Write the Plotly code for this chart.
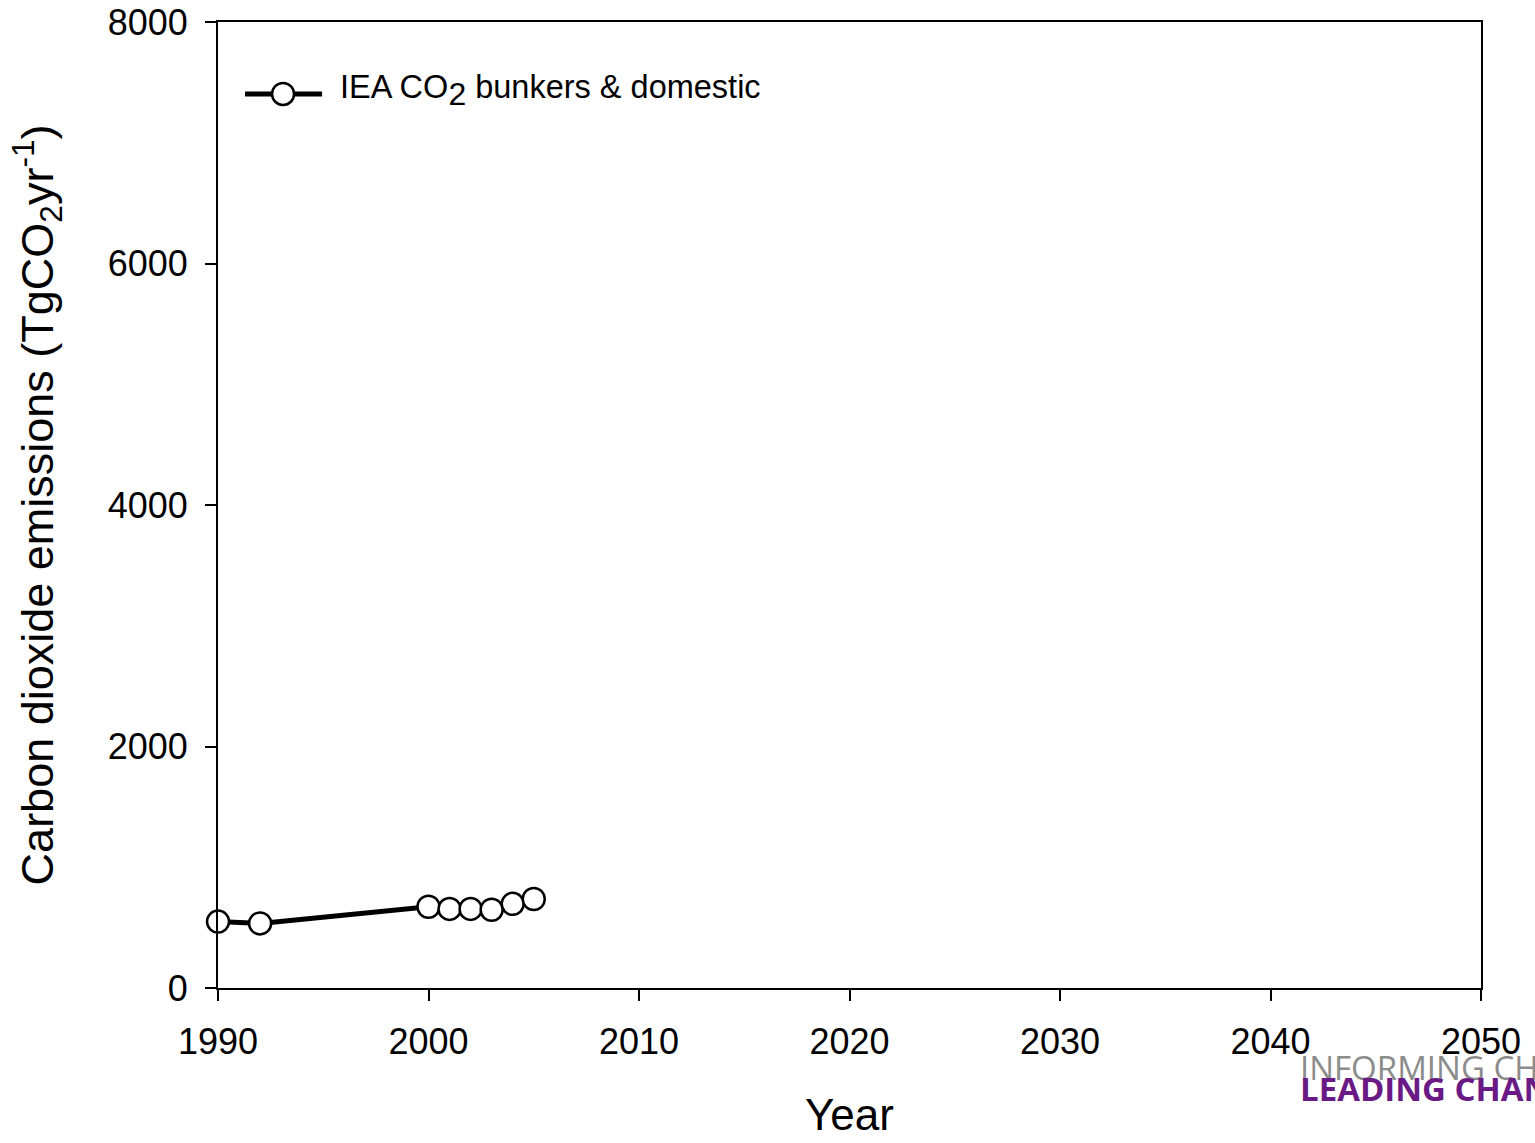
import plotly.graph_objects as go

# IEA CO2 emissions from bunkers & domestic (TgCO2 per year)
years = [1990, 1992, 2000, 2001, 2002, 2003, 2004, 2005]
emissions = [550, 535, 673, 655, 655, 648, 697, 737]

x_ticks = [1990, 2000, 2010, 2020, 2030, 2040, 2050]
y_ticks = [0, 2000, 4000, 6000, 8000]

FONT = "Liberation Sans, Arial, sans-serif"

fig = go.Figure()
fig.add_trace(go.Scatter(
    x=years, y=emissions, mode="lines+markers",
    name="IEA CO<sub>2</sub> bunkers & domestic",
    line=dict(color="black", width=5),
    marker=dict(size=22, color="white", line=dict(color="black", width=2.5)),
    cliponaxis=False, showlegend=False,
))

axis_common = dict(
    showgrid=False, zeroline=False, showline=True, linecolor="black", linewidth=2,
    ticks="outside", ticklen=11, tickwidth=2, tickcolor="black",
    tickfont=dict(family=FONT, size=36, color="black"), mirror=True,
    automargin=False,
)

fig.update_xaxes(range=[1990, 2050], tickvals=x_ticks, ticklabelstandoff=10, **axis_common,
                 title=dict(text="Year", font=dict(family=FONT, size=44, color="black"), standoff=38))
fig.update_yaxes(range=[0, 8000], tickvals=y_ticks, ticklabelstandoff=10, **axis_common,
                 title=dict(text="Carbon dioxide emissions (TgCO<sub>2</sub>yr<sup>-1</sup>)",
                            font=dict(family=FONT, size=45, color="black"), standoff=40))

# legend drawn inside the plot area
fig.add_shape(type="line", xref="paper", yref="paper", x0=0.0214, x1=0.0824, y0=0.9255, y1=0.9255,
              line=dict(color="black", width=5))
fig.add_shape(type="circle", xref="paper", yref="paper", xsizemode="pixel", ysizemode="pixel",
              xanchor=0.0515, yanchor=0.9255, x0=-11, x1=11, y0=-11, y1=11,
              line=dict(color="black", width=2.5), fillcolor="white")
fig.add_annotation(xref="paper", yref="paper", x=0.095, y=0.9295, xanchor="left", yanchor="middle",
                   text="IEA CO<sub><span style='font-size:32px'>2</span></sub> bunkers & domestic",
                   showarrow=False, font=dict(family=FONT, size=32.5, color="black"))

# logo text in the lower right corner
fig.add_annotation(xref="paper", yref="paper", x=0.8555, y=-0.0818, xanchor="left", yanchor="middle",
                   text="INFORMING CHOICES", showarrow=False,
                   font=dict(family="Open Sans, sans-serif", size=33, color="#8c8c8c"))
fig.add_annotation(xref="paper", yref="paper", x=0.8555, y=-0.1045, xanchor="left", yanchor="middle",
                   text="<b>LEADING CHANGE</b>", showarrow=False,
                   font=dict(family="Open Sans, sans-serif", size=33, color="#6a1a85"))

fig.update_layout(
    width=1535, height=1143,
    margin=dict(l=218, r=54, t=22, b=155),
    plot_bgcolor="white", paper_bgcolor="white",
    showlegend=False,
)

fig.write_html("out.html")
